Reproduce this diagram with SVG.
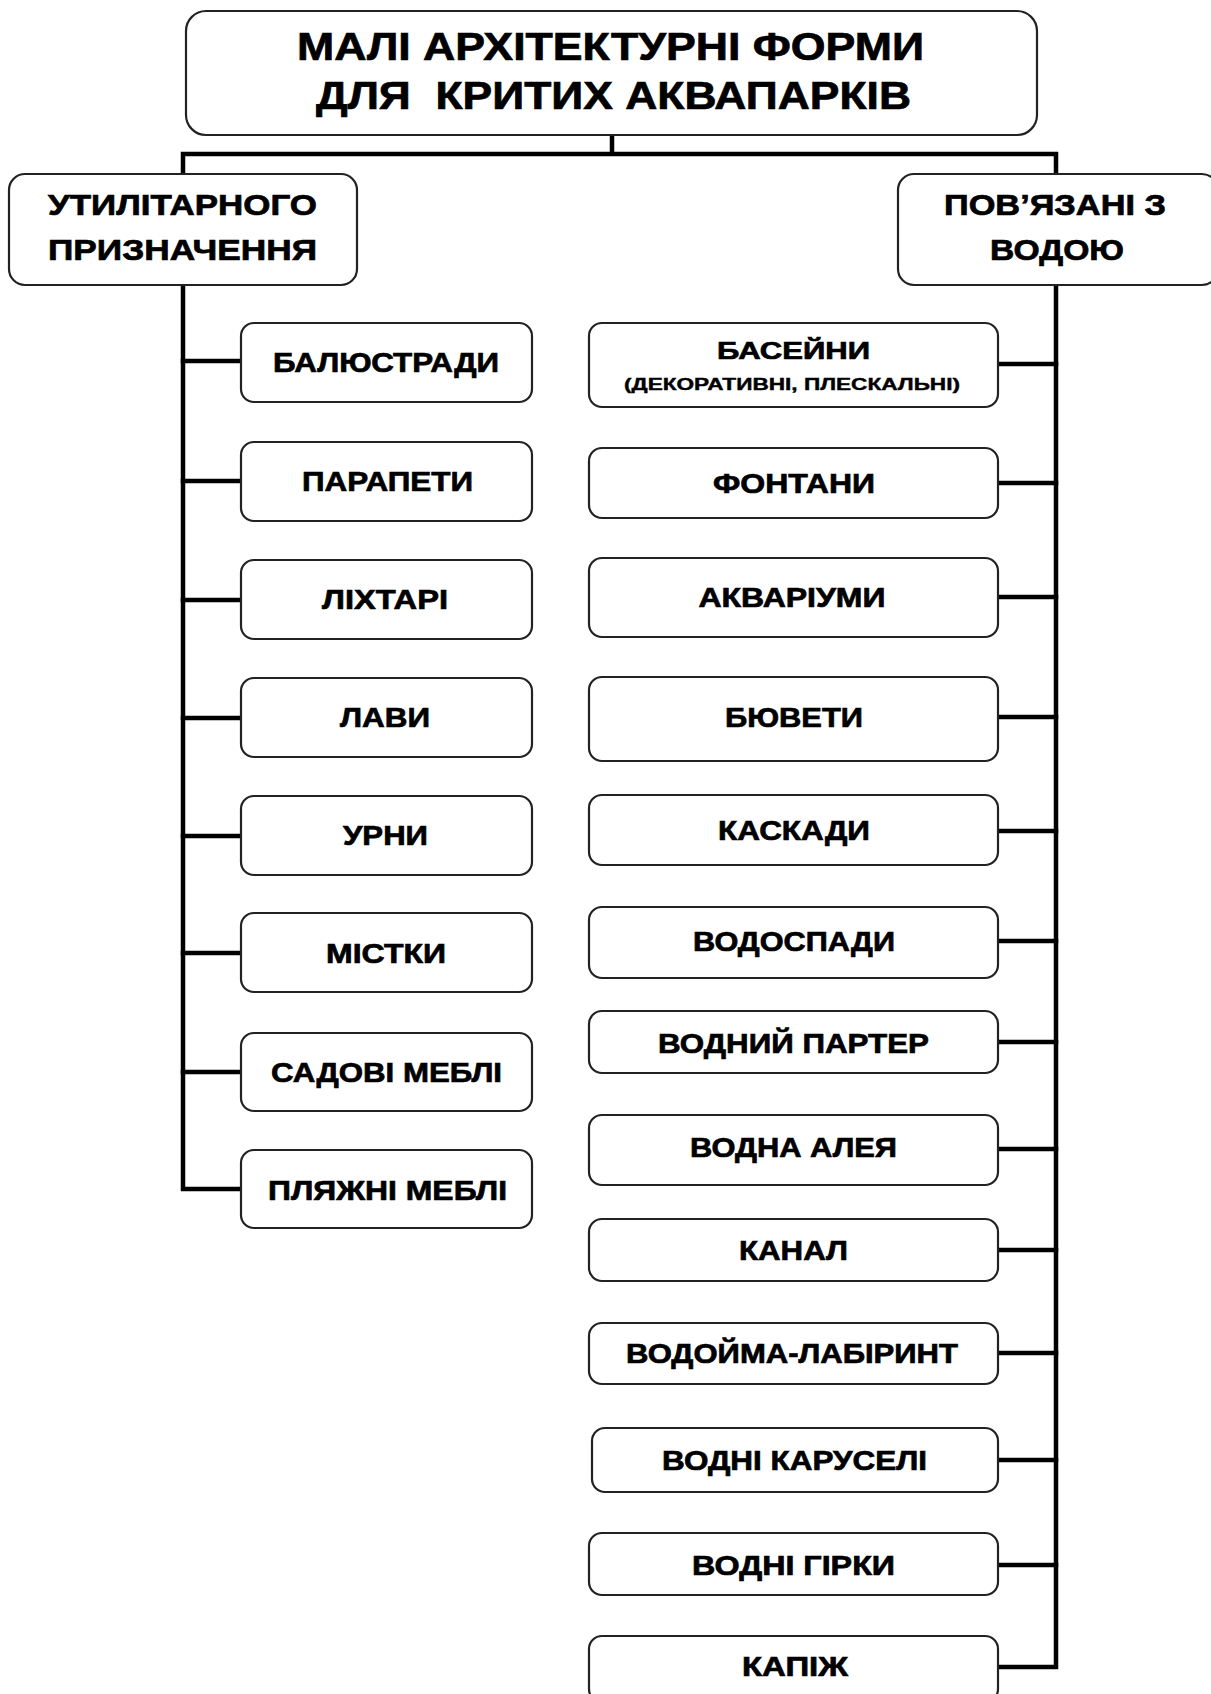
<svg xmlns="http://www.w3.org/2000/svg" width="1211" height="1694" viewBox="0 0 1211 1694">
<style>
.box{fill:#fff;stroke:#222;stroke-width:2.2}
.t{font-family:"Liberation Sans",Arial,sans-serif;font-weight:900;fill:#000;stroke:#000;stroke-width:0.7;text-anchor:middle}
.lbl{font-size:28px}
.cat{font-size:30px}
.ttl{font-size:38px}
.ln{stroke:#000;stroke-width:4.5;fill:none;stroke-linecap:square}
</style>
<rect width="1211" height="1694" fill="#fff"/>
<g id="connectors">
<path class="ln" d="M612 135V154M183 154H1056M183 154V173M1056 154V173"/>
<path class="ln" d="M183 285V1189H241"/>
<path class="ln" d="M183 361H241M183 481H241M183 600H241M183 718H241M183 836H241M183 953H241M183 1072H241"/>
<path class="ln" d="M1056 285V1667H998"/>
<path class="ln" d="M998 364H1056M998 483H1056M998 597H1056M998 717H1056M998 831H1056M998 941H1056M998 1042H1056M998 1149H1056M998 1250H1056M998 1353H1056M998 1460H1056M998 1565H1056"/>
</g>
<g id="root">
<rect class="box" x="186" y="11" width="851" height="124" rx="20"/>
<text class="t ttl" x="610.5" y="60" textLength="627" lengthAdjust="spacingAndGlyphs">МАЛІ АРХІТЕКТУРНІ ФОРМИ</text>
<text class="t ttl" x="613.5" y="109" textLength="595" lengthAdjust="spacingAndGlyphs" xml:space="preserve">ДЛЯ  КРИТИХ АКВАПАРКІВ</text>
</g>
<g id="cat-utility">
<rect class="box" x="9" y="174" width="348" height="111" rx="16"/>
<text class="t cat" x="182.5" y="215" textLength="269" lengthAdjust="spacingAndGlyphs">УТИЛІТАРНОГО</text>
<text class="t cat" x="182.5" y="260" textLength="269" lengthAdjust="spacingAndGlyphs">ПРИЗНАЧЕННЯ</text>
</g>
<g id="cat-water">
<rect class="box" x="898" y="174" width="320" height="111" rx="16"/>
<text class="t cat" x="1055" y="215" textLength="222" lengthAdjust="spacingAndGlyphs">ПОВ’ЯЗАНІ З</text>
<text class="t cat" x="1057" y="260" textLength="134" lengthAdjust="spacingAndGlyphs">ВОДОЮ</text>
</g>
<g id="u1"><rect class="box" x="241" y="323" width="291" height="79" rx="13"/><text class="t lbl" x="386" y="372" textLength="226" lengthAdjust="spacingAndGlyphs">БАЛЮСТРАДИ</text></g>
<g id="u2"><rect class="box" x="241" y="442" width="291" height="79" rx="13"/><text class="t lbl" x="387.5" y="491" textLength="171" lengthAdjust="spacingAndGlyphs">ПАРАПЕТИ</text></g>
<g id="u3"><rect class="box" x="241" y="560" width="291" height="79" rx="13"/><text class="t lbl" x="385" y="609" textLength="126" lengthAdjust="spacingAndGlyphs">ЛІХТАРІ</text></g>
<g id="u4"><rect class="box" x="241" y="678" width="291" height="79" rx="13"/><text class="t lbl" x="385" y="727" textLength="90" lengthAdjust="spacingAndGlyphs">ЛАВИ</text></g>
<g id="u5"><rect class="box" x="241" y="796" width="291" height="79" rx="13"/><text class="t lbl" x="385.5" y="845" textLength="85" lengthAdjust="spacingAndGlyphs">УРНИ</text></g>
<g id="u6"><rect class="box" x="241" y="913" width="291" height="79" rx="13"/><text class="t lbl" x="386" y="963" textLength="120" lengthAdjust="spacingAndGlyphs">МІСТКИ</text></g>
<g id="u7"><rect class="box" x="241" y="1033" width="291" height="78" rx="13"/><text class="t lbl" x="386.5" y="1082" textLength="231" lengthAdjust="spacingAndGlyphs">САДОВІ МЕБЛІ</text></g>
<g id="u8"><rect class="box" x="241" y="1150" width="291" height="78" rx="13"/><text class="t lbl" x="387.5" y="1200" textLength="239" lengthAdjust="spacingAndGlyphs">ПЛЯЖНІ МЕБЛІ</text></g>
<g id="w1"><rect class="box" x="589" y="323" width="409" height="84" rx="13"/><text class="t" style="font-size:24px" x="793.5" y="359" textLength="153" lengthAdjust="spacingAndGlyphs">БАСЕЙНИ</text><text class="t" style="font-size:16px;stroke-width:0.4" x="792" y="390" textLength="336" lengthAdjust="spacingAndGlyphs">(ДЕКОРАТИВНІ, ПЛЕСКАЛЬНІ)</text></g>
<g id="w2"><rect class="box" x="589" y="448" width="409" height="70" rx="13"/><text class="t lbl" x="794" y="493" textLength="162" lengthAdjust="spacingAndGlyphs">ФОНТАНИ</text></g>
<g id="w3"><rect class="box" x="589" y="558" width="409" height="79" rx="13"/><text class="t lbl" x="792" y="607" textLength="187" lengthAdjust="spacingAndGlyphs">АКВАРІУМИ</text></g>
<g id="w4"><rect class="box" x="589" y="677" width="409" height="84" rx="13"/><text class="t lbl" x="794" y="727" textLength="138" lengthAdjust="spacingAndGlyphs">БЮВЕТИ</text></g>
<g id="w5"><rect class="box" x="589" y="795" width="409" height="70" rx="13"/><text class="t lbl" x="794" y="840" textLength="152" lengthAdjust="spacingAndGlyphs">КАСКАДИ</text></g>
<g id="w6"><rect class="box" x="589" y="907" width="409" height="71" rx="13"/><text class="t lbl" x="794" y="951" textLength="202" lengthAdjust="spacingAndGlyphs">ВОДОСПАДИ</text></g>
<g id="w7"><rect class="box" x="589" y="1011" width="409" height="62" rx="13"/><text class="t lbl" x="793.5" y="1053" textLength="271" lengthAdjust="spacingAndGlyphs">ВОДНИЙ ПАРТЕР</text></g>
<g id="w8"><rect class="box" x="589" y="1115" width="409" height="70" rx="13"/><text class="t lbl" x="793.5" y="1157" textLength="207" lengthAdjust="spacingAndGlyphs">ВОДНА АЛЕЯ</text></g>
<g id="w9"><rect class="box" x="589" y="1219" width="409" height="62" rx="13"/><text class="t lbl" x="793.5" y="1260" textLength="109" lengthAdjust="spacingAndGlyphs">КАНАЛ</text></g>
<g id="w10"><rect class="box" x="589" y="1323" width="409" height="61" rx="13"/><text class="t lbl" x="792" y="1363" textLength="332" lengthAdjust="spacingAndGlyphs">ВОДОЙМА-ЛАБІРИНТ</text></g>
<g id="w11"><rect class="box" x="592" y="1428" width="406" height="64" rx="13"/><text class="t lbl" x="794.5" y="1470" textLength="265" lengthAdjust="spacingAndGlyphs">ВОДНІ КАРУСЕЛІ</text></g>
<g id="w12"><rect class="box" x="589" y="1533" width="409" height="62" rx="13"/><text class="t lbl" x="793.5" y="1575" textLength="203" lengthAdjust="spacingAndGlyphs">ВОДНІ ГІРКИ</text></g>
<g id="w13"><rect class="box" x="589" y="1636" width="409" height="66" rx="13"/><text class="t lbl" x="795" y="1676" textLength="106" lengthAdjust="spacingAndGlyphs">КАПІЖ</text></g>
</svg>
